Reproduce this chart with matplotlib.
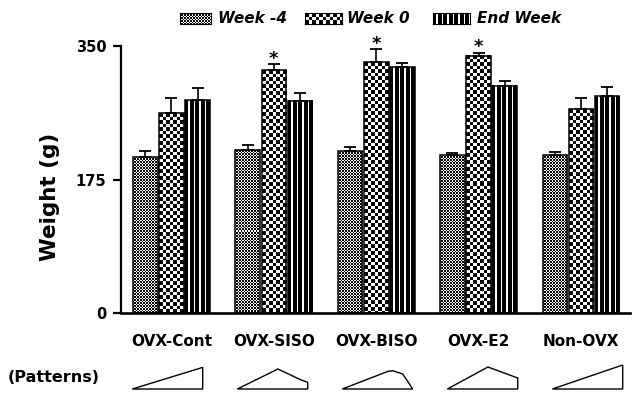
import numpy as np
import matplotlib
matplotlib.use('Agg')
import matplotlib.pyplot as plt
from matplotlib.patches import Polygon

# ---------------- data ----------------
groups = ['OVX-Cont', 'OVX-SISO', 'OVX-BISO', 'OVX-E2', 'Non-OVX']
series = ['Week -4', 'Week 0', 'End Week']
week_m4 = [204, 214, 212, 207, 207]
week_m4_err = [8, 6.5, 5.5, 3, 4]
week_0 = [262, 318, 329, 337, 267]
week_0_err = [20, 8.5, 16.5, 4, 15]
end_week = [279, 278, 322, 298, 284]
end_week_err = [15.5, 10, 6, 6.5, 12]
week0_significant = [False, True, True, True, False]
y_ticks = [0, 175, 350]
y_label = 'Weight (g)'
# weight-trajectory pattern outlines (x fraction of width, relative height)
pattern_profiles = [
    [(0, 0), (1, 21.6), (1, 0)],
    [(0, 0), (0.577, 20), (0.907, 9), (1, 6.7), (1, 0)],
    [(0, 0), (0.646, 17.6), (0.717, 18.3), (0.859, 15), (1, 0)],
    [(0, 0), (0.577, 22), (1, 11), (1, 0)],
    [(0, 0), (1, 24), (1, 0)],
]

# ---------------- layout ----------------
W, H = 633, 396
fig = plt.figure(figsize=(W / 100, H / 100), dpi=100)
fx = lambda px: px / W
fy = lambda py: 1 - py / H

BOLD = dict(family='DejaVu Sans', fontweight='bold')

ax = fig.add_axes([fx(121), fy(313), fx(630) - fx(121), fy(46) - fy(313)])
xlim = (-0.493, 4.479)
ylim = (0, 350)
ax.set_xlim(*xlim)
ax.set_ylim(*ylim)


def pattern_array(kind, w, h):
    j = np.arange(w)[None, :]
    i = np.arange(h)[:, None]
    if kind == 0:
        black = ((i + j) % 3 == 0) | ((i - j) % 3 == 0)
    elif kind == 1:
        black = ((np.floor(i / 3.5) + np.floor(j / 3.5)) % 2 == 0)
    else:
        black = ~(((j - 3) % 5.5) < 1.3) & np.ones_like(i, dtype=bool)
    return np.where(black, 0.0, 1.0)


all_vals = [week_m4, week_0, end_week]
all_errs = [week_m4_err, week_0_err, end_week_err]
offsets = [-0.255, 0.0, 0.255]
width = 0.24
x = np.arange(len(groups))

for k in range(3):
    xs = x + offsets[k]
    bars = ax.bar(xs, all_vals[k], width=width, facecolor='none',
                  edgecolor='black', linewidth=1.1, zorder=3)
    for rect in bars:
        x0 = rect.get_x()
        x1 = x0 + rect.get_width()
        h = rect.get_height()
        p0 = ax.transData.transform((x0, 0))
        p1 = ax.transData.transform((x1, h))
        pw = max(int(round(p1[0] - p0[0])), 1)
        ph = max(int(round(p1[1] - p0[1])), 1)
        img = pattern_array(k, pw, ph)
        ax.imshow(img, extent=(x0, x1, 0, h), aspect='auto', cmap='gray',
                  vmin=0, vmax=1, interpolation='nearest', zorder=2)
    ax.errorbar(xs, all_vals[k], yerr=[np.zeros(len(xs)), all_errs[k]],
                fmt='none', ecolor='black', elinewidth=1.2, capsize=4.3,
                capthick=1.3, zorder=4, clip_on=False)

for i, sig in enumerate(week0_significant):
    if sig:
        ax.text(x[i] + offsets[1], week_0[i] + week_0_err[i] + 0.5, '*',
                ha='center', va='baseline', fontsize=13, clip_on=False, **BOLD)

ax.set_xlim(*xlim)
ax.set_ylim(*ylim)
ax.set_aspect('auto')

for s in ['top', 'right']:
    ax.spines[s].set_visible(False)
ax.spines['left'].set_linewidth(1.6)
ax.spines['bottom'].set_linewidth(1.9)
ax.set_yticks(y_ticks)
ax.set_yticklabels([str(v) for v in y_ticks], fontsize=10.5, **BOLD)
ax.tick_params(axis='y', length=5.5, width=1.6, pad=5)
ax.set_xticks(x)
ax.set_xticklabels(groups, fontsize=11, **BOLD)
ax.tick_params(axis='x', length=0, pad=15)

fig.text(fx(50), fy(197), y_label, rotation=90, ha='center', va='center',
         fontsize=15.5, **BOLD)

# ---------------- legend ----------------
swatches = [(180, 211, 218), (305, 342, 347), (433, 470, 477)]
for k, (sx0, sx1, tx) in enumerate(swatches):
    sax = fig.add_axes([fx(sx0), fy(24), fx(sx1) - fx(sx0), fy(13) - fy(24)])
    sax.imshow(pattern_array(k, sx1 - sx0, 11), aspect='auto', cmap='gray',
               vmin=0, vmax=1, interpolation='nearest')
    sax.set_xticks([])
    sax.set_yticks([])
    for sp in sax.spines.values():
        sp.set_linewidth(0.8)
    fig.text(fx(tx), fy(18.5), series[k], ha='left', va='center',
             fontsize=11, family='DejaVu Sans', fontweight='bold',
             fontstyle='italic')

# ---------------- patterns row ----------------
pax = fig.add_axes([fx(100), fy(395), fx(633) - fx(100), fy(358) - fy(395)])
pax.set_xlim(-0.643, 4.433)
pax.set_ylim(-6, 31)
pax.axis('off')
shape_w = 0.67
for i, prof in enumerate(pattern_profiles):
    pts = [(i - shape_w / 2 + px * shape_w, py) for px, py in prof]
    pax.add_patch(Polygon(pts, closed=True, facecolor='white',
                          edgecolor='black', linewidth=1.0))

fig.text(fx(8), fy(378), '(Patterns)', ha='left', va='center',
         fontsize=11.5, **BOLD)

fig.savefig('out.png', dpi=100)
